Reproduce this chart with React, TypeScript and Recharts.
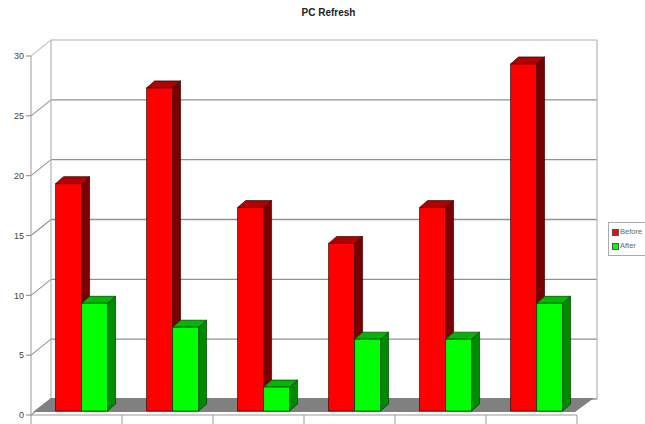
import { BarChart, Bar, XAxis, YAxis, CartesianGrid, Legend, Customized } from "recharts";

const categories = ["Q1", "Q2", "Q3", "Q4", "Q5", "Q6"];
const before = [19, 27, 17, 14, 17, 29];
const after = [9, 7, 2, 6, 6, 9];
const yTicks = [0, 5, 10, 15, 20, 25, 30];
const seriesNames = ["Before", "After"];

const rows = categories.map((c, i) => ({ name: c, before: before[i], after: after[i] }));

const W = 645;
const H = 424;
const LEFT = 31;
const RIGHT = 577;
const TOP = 56;
const BOTTOM = 415;
const DX = 20; // wall depth
const DY = 16;
const BDX = 8; // bar depth
const BDY = 7;
const SHIFT = 5;
const LIFT = 4;
const FONT = "'Liberation Sans', Arial, sans-serif";

const bar3d = (front: string, side: string, top: string, edge: string) => (p: any) => {
  const { x, width, height } = p;
  if (!height || height <= 0) return <g />;
  const X = x + SHIFT;
  const y = p.y - LIFT;
  const R = X + width;
  const B = y + height;
  return (
    <g stroke={edge} strokeWidth={0.7} strokeLinejoin="round">
      <polygon points={`${R},${y} ${R + BDX},${y - BDY} ${R + BDX},${B - BDY} ${R},${B}`} fill={side} />
      <polygon points={`${X},${y} ${X + BDX},${y - BDY} ${R + BDX},${y - BDY} ${R},${y}`} fill={top} />
      <rect x={X} y={y} width={width} height={height} fill={front} />
    </g>
  );
};

const Walls = () => (
  <g stroke="#b5b5b5" strokeWidth={1.2}>
    <line x1={LEFT + DX} y1={TOP - DY} x2={LEFT + DX} y2={BOTTOM - DY} />
    <line x1={RIGHT + DX} y1={TOP - DY} x2={RIGHT + DX} y2={BOTTOM - DY} />
  </g>
);

const Floor = () => (
  <g>
    <polygon
      points={`${LEFT + 2},${BOTTOM - 3} ${RIGHT - 2},${BOTTOM - 3} ${RIGHT + DX - 3},${BOTTOM - DY - 1} ${LEFT + DX},${BOTTOM - DY - 1}`}
      fill="#808080"
    />
    <text x={W / 2 + 6} y={16} textAnchor="middle" fontFamily={FONT} fontSize={10} fontWeight="bold" fill="#222">
      PC Refresh
    </text>
  </g>
);

const gridLine = (p: any) => {
  const light = p.y1 <= TOP + 1;
  return (
    <g key={`g-${p.index}`} stroke={light ? "#c8c8c8" : "#929292"} strokeWidth={1.4}>
      <line x1={p.x1 + DX} y1={p.y1 - DY} x2={p.x2 + DX} y2={p.y2 - DY} />
      <line x1={p.x1} y1={p.y1} x2={p.x1 + DX} y2={p.y1 - DY} strokeWidth={1.1} />
    </g>
  );
};

const XTick = (p: any) => {
  const bw = (RIGHT - LEFT) / categories.length;
  const half = p.payload && p.payload.offset ? p.payload.offset : bw / 2;
  return (
    <g stroke="#999" strokeWidth={1}>
      {p.index === 0 && <line x1={p.x - half} y1={p.y} x2={p.x - half} y2={p.y + 9} />}
      <line x1={p.x + half} y1={p.y} x2={p.x + half} y2={p.y + 9} />
    </g>
  );
};

const LegendBox = (props: any) => {
  const items = [...(props.payload || [])].sort(
    (a: any, b: any) => seriesNames.indexOf(a.value) - seriesNames.indexOf(b.value)
  );
  return (
    <div
      style={{
        border: "1px solid #aaa",
        padding: "2px 3px",
        fontFamily: FONT,
        fontSize: 7.5,
        color: "#666",
        background: "#fff",
        width: 60,
        lineHeight: "14px",
      }}
    >
      {items.map((it: any) => (
        <div key={it.value} style={{ display: "flex", alignItems: "center" }}>
          <span
            style={{
              display: "inline-block",
              width: 5,
              height: 5,
              background: it.color,
              border: "1px solid #555",
              marginRight: 1,
            }}
          />
          {it.value}
        </div>
      ))}
    </div>
  );
};

export default function App() {
  return (
    <div style={{ position: "absolute", left: 0, top: 0, width: W, height: H, overflow: "hidden", background: "#fff" }}>
      <BarChart
        width={W}
        height={H}
        data={rows}
        margin={{ top: TOP, right: W - RIGHT, bottom: 0, left: 0 }}
        barCategoryGap="21.5%"
        barGap={0}
      >
        <Customized component={Walls} />
        <CartesianGrid vertical={false} horizontal={gridLine} />
        <Customized component={Floor} />
        <XAxis
          dataKey="name"
          height={H - BOTTOM}
          axisLine={{ stroke: "#999" }}
          tickLine={false}
          tickSize={0}
          tickMargin={0}
          tick={<XTick />}
          interval={0}
        />
        <YAxis
          width={LEFT}
          domain={[0, 30]}
          ticks={yTicks}
          interval={0}
          axisLine={{ stroke: "#999" }}
          tickLine={{ stroke: "#888" }}
          tickSize={5}
          tickMargin={2}
          tick={{ fontSize: 9, fill: "#444", fontFamily: FONT }}
        />
        <Legend
          layout="vertical"
          align="center"
          verticalAlign="middle"
          wrapperStyle={{ left: 608, top: 222, width: 70 }}
          content={<LegendBox />}
        />
        <Bar
          dataKey="before"
          name="Before"
          fill="#ff0000"
          isAnimationActive={false}
          shape={bar3d("#ff0000", "#7a0000", "#b00000", "#3a0000")}
        />
        <Bar
          dataKey="after"
          name="After"
          fill="#00ff00"
          isAnimationActive={false}
          shape={bar3d("#00ff00", "#008a00", "#00b800", "#003a00")}
        />
      </BarChart>
    </div>
  );
}
